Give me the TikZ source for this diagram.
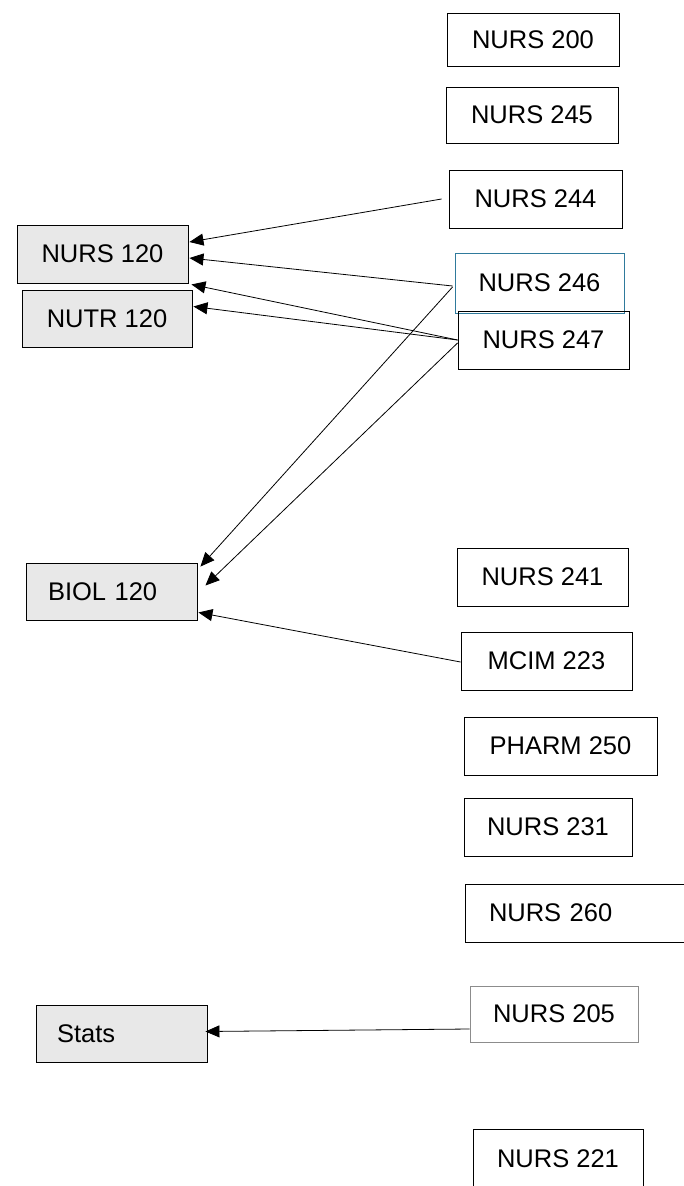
\documentclass[tikz,border=0pt]{standalone}
\usepackage{fontspec}
\setmainfont{Liberation Sans}
\usetikzlibrary{arrows.meta,calc}
\definecolor{boxgrey}{HTML}{E8E8E8}
\definecolor{tealline}{HTML}{2F7A9C}
\definecolor{greyline}{HTML}{8C8C8C}
\begin{document}
\begin{tikzpicture}[x=1pt,y=-1pt,
  box/.style={draw=black,line width=0.9pt,rectangle,inner sep=0pt,minimum height=58pt,font=\fontsize{25.5}{30}\selectfont,text=black},
  pre/.style={box,fill=boxgrey},
  arr/.style={line width=0.8pt,-{Triangle[length=14pt,width=12pt]}}]
\useasboundingbox (0,0) rectangle (683,1186);
\fill[white] (0,0) rectangle (683,1186);
% right column
\node[box,minimum width=172pt,minimum height=53pt] (n200) at (533,39.5) {NURS 200};
\node[box,minimum width=172pt,minimum height=56pt] (n245) at (532,115) {NURS 245};
\node[box,minimum width=173pt] (n244) at (535.5,199) {NURS 244};
\node[box,draw=tealline,minimum width=169pt,minimum height=60pt] (n246) at (539.5,283) {NURS 246};
\node[box,minimum width=171pt] (n247) at (543.5,340) {NURS 247};
\node[box,minimum width=171pt] (n241) at (542.5,577) {NURS 241};
\node[box,minimum width=171pt] (m223) at (546.5,661) {MCIM 223};
\node[box,minimum width=193pt] (p250) at (560.5,746) {PHARM 250};
\node[box,minimum width=168pt] (n231) at (548,827) {NURS 231};
\node[box,minimum width=240pt,text width=192pt,align=left] (n260) at (585,913) {NURS 260};
\node[box,draw=greyline,minimum width=168pt,minimum height=56pt] (n205) at (554,1014) {NURS 205};
\node[box,minimum width=170pt,minimum height=60pt] (n221) at (558,1159) {NURS 221};
% left column
\node[pre,minimum width=171pt] (n120) at (102.5,254) {NURS 120};
\node[pre,minimum width=170pt,minimum height=57pt] (t120) at (107,318.5) {NUTR 120};
\node[pre,minimum width=171pt,minimum height=57pt,text width=127pt,align=left] (b120) at (111.5,591.5) {BIOL 120};
\node[pre,minimum width=171pt,minimum height=57pt,text width=129pt,align=left] (stats) at (121.5,1033.5) {Stats};
% connectors
\draw[arr] ($(n244.west)+(-7,0)$) -- ($(n120.east)+(1,-12)$);
\draw[arr] ($(n246.west)+(-2,3)$) -- ($(n120.east)+(1,4)$);
\draw[arr] ($(n247.west)+(0,0)$) -- ($(n120.south east)+(3,1)$);
\draw[arr] ($(n247.west)+(0,0)$) -- ($(t120.east)+(1,-12)$);
\draw[arr] ($(n246.west)+(-2,4)$) -- ($(b120.north east)+(3,4)$);
\draw[arr] ($(n247.west)+(0,3)$) -- ($(b120.east)+(8,-6)$);
\draw[arr] ($(m223.west)+(0,1)$) -- ($(b120.south east)+(1,-8)$);
\draw[arr] ($(n205.west)+(0,15)$) -- ($(stats.east)+(-2,-2)$);
\end{tikzpicture}
\end{document}
